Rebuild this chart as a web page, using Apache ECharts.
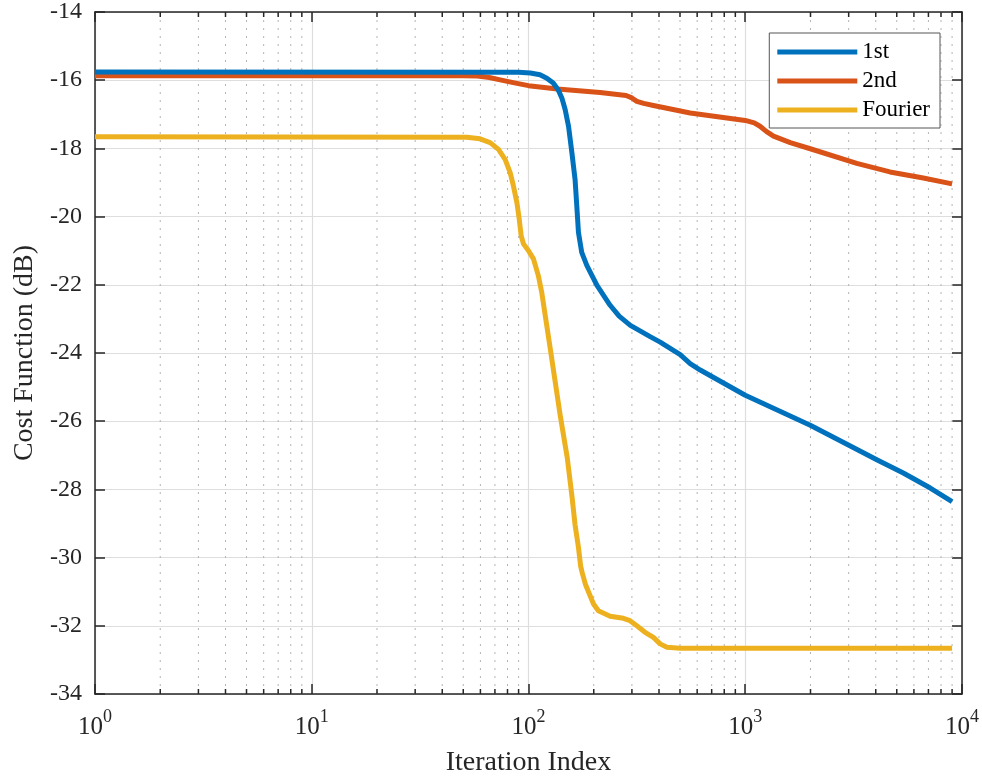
<!DOCTYPE html>
<html>
<head>
<meta charset="utf-8">
<script src="https://cdn.jsdelivr.net/npm/echarts@6/dist/echarts.min.js"></script>
<style>
html,body{margin:0;padding:0;background:#fff;}
#chart{width:982px;height:782px;}
</style>
</head>
<body>
<div id="chart"></div>
<script>
// ---- Data ----
const seriesNames = ['1st', '2nd', 'Fourier'];

const iter1st = [1, 90, 102, 113, 121.5, 130, 137, 142.5, 147.6, 153, 158.6, 164, 167, 170, 176, 186, 207, 238, 262, 295, 327, 364, 405, 501, 557, 620, 1000, 1995, 3053, 4066, 5360, 7140, 9000];
const cost1st = [-15.76, -15.77, -15.79, -15.84, -15.94, -16.08, -16.28, -16.52, -16.86, -17.35, -18.13, -18.91, -19.68, -20.46, -21.05, -21.44, -22.02, -22.60, -22.92, -23.19, -23.35, -23.52, -23.68, -24.05, -24.31, -24.50, -25.24, -26.12, -26.73, -27.14, -27.52, -27.96, -28.36];

const iter2nd = [1, 50, 58, 66, 74, 85, 100, 136, 214, 282, 300, 316, 340, 377, 557, 1000, 1100, 1170, 1250, 1350, 1613, 1995, 3270, 4650, 6630, 9000];
const cost2nd = [-15.87, -15.87, -15.88, -15.92, -15.99, -16.07, -16.16, -16.26, -16.36, -16.45, -16.52, -16.62, -16.68, -16.74, -16.96, -17.18, -17.25, -17.35, -17.50, -17.64, -17.83, -18.01, -18.44, -18.69, -18.87, -19.04];

const iterFourier = [1, 51.9, 59.8, 66.5, 72.7, 78, 82.3, 85.2, 88.4, 90.6, 92.5, 94.8, 100, 105.4, 111, 115, 126, 140, 151, 159, 164, 170, 174, 177, 183, 199.5, 210, 238, 274, 294, 316, 345, 377, 405, 435, 501, 9000];
const costFourier = [-17.66, -17.67, -17.72, -17.83, -18.03, -18.32, -18.71, -19.10, -19.59, -20.07, -20.56, -20.80, -21.00, -21.24, -21.73, -22.21, -23.87, -25.82, -27.08, -28.25, -29.04, -29.70, -30.25, -30.45, -30.78, -31.36, -31.56, -31.72, -31.78, -31.85, -32.00, -32.19, -32.34, -32.53, -32.63, -32.66, -32.66];

// axis ranges and ticks
const xMin = 1, xMax = 10000;
const yMin = -34, yMax = -14, yStep = 2;
const minorTicks = [2,3,4,5,6,7,8,9, 20,30,40,50,60,70,80,90, 200,300,400,500,600,700,800,900, 2000,3000,4000,5000,6000,7000,8000,9000];

const colors = ['#0072BD', '#D95319', '#EDB120'];
const FONT = 'Liberation Serif';
const TXT = '#262626';

const zip = (xs, ys) => xs.map((x, i) => [x, ys[i]]);

const chart = echarts.init(document.getElementById('chart'), null, {renderer: 'canvas'});

const axisLineStyle = {color: TXT, width: 1.5};

const option = {
  animation: false,
  backgroundColor: '#fff',
  grid: {left: 95, top: 12, right: 20, bottom: 85, containLabel: false},
  legend: {
    data: seriesNames,
    orient: 'vertical',
    right: 42,
    top: 33,
    itemWidth: 80,
    itemHeight: 5,
    itemGap: 5,
    icon: 'rect',
    padding: [7, 10, 6, 8],
    borderColor: '#555',
    borderWidth: 1,
    backgroundColor: '#fff',
    textStyle: {fontFamily: FONT, fontSize: 23, color: '#000', lineHeight: 24, padding: [0, 0, 0, 0]}
  },
  xAxis: [
    {
      type: 'log', logBase: 10, min: xMin, max: xMax,
      name: 'Iteration Index', nameLocation: 'middle', nameGap: 55,
      nameTextStyle: {fontFamily: FONT, fontSize: 28, color: TXT},
      axisLine: {show: true, lineStyle: axisLineStyle},
      axisTick: {show: true, inside: true, length: 10, lineStyle: {color: TXT, width: 1.5}},
      splitLine: {show: true, lineStyle: {color: '#dedede', width: 1.2}},
      axisLabel: {
        margin: 14,
        formatter: v => '{b|10}{s|' + Math.round(Math.log10(v)) + '}',
        rich: {
          b: {fontFamily: FONT, fontSize: 25, color: TXT, lineHeight: 32, verticalAlign: 'bottom'},
          s: {fontFamily: FONT, fontSize: 18, color: TXT, lineHeight: 32, verticalAlign: 'top'}
        }
      }
    },
    {
      type: 'log', logBase: 10, min: xMin, max: xMax, position: 'top',
      axisLine: {show: true, lineStyle: axisLineStyle},
      axisTick: {show: true, inside: true, length: 10, lineStyle: {color: TXT, width: 1.5}},
      axisLabel: {show: false}, splitLine: {show: false}
    }
  ],
  yAxis: [
    {
      type: 'value', min: yMin, max: yMax, interval: yStep,
      name: 'Cost Function (dB)', nameLocation: 'middle', nameGap: 52,
      nameTextStyle: {fontFamily: FONT, fontSize: 28, color: TXT},
      axisLine: {show: true, lineStyle: axisLineStyle},
      axisTick: {show: true, inside: true, length: 10, lineStyle: {color: TXT, width: 1.5}},
      splitLine: {show: true, lineStyle: {color: '#dedede', width: 1.2}},
      axisLabel: {fontFamily: FONT, fontSize: 24, color: TXT, margin: 13}
    },
    {
      type: 'value', min: yMin, max: yMax, interval: yStep, position: 'right',
      axisLine: {show: true, lineStyle: axisLineStyle},
      axisTick: {show: true, inside: true, length: 10, lineStyle: {color: TXT, width: 1.5}},
      axisLabel: {show: false}, splitLine: {show: false}
    }
  ],
  series: [
    {
      name: 'minor', type: 'custom', xAxisIndex: 0, yAxisIndex: 0, z: 1, silent: true,
      data: minorTicks.map(v => [v, yMin]),
      renderItem: function (params, api) {
        const x = api.value(0);
        const top = api.coord([x, yMax]);
        const bot = api.coord([x, yMin]);
        return {
          type: 'group',
          children: [
            {type: 'line', shape: {x1: top[0], y1: top[1], x2: bot[0], y2: bot[1]},
             style: {stroke: '#b4b4b4', lineWidth: 1, lineDash: [2, 6]}},
            {type: 'line', shape: {x1: bot[0], y1: bot[1], x2: bot[0], y2: bot[1] - 5},
             style: {stroke: TXT, lineWidth: 1.5}},
            {type: 'line', shape: {x1: top[0], y1: top[1], x2: top[0], y2: top[1] + 5},
             style: {stroke: TXT, lineWidth: 1.5}}
          ]
        };
      }
    },
    {name: seriesNames[0], type: 'line', data: zip(iter1st, cost1st), showSymbol: false, z: 5,
     lineStyle: {color: colors[0], width: 5, join: 'round'}, itemStyle: {color: colors[0]}},
    {name: seriesNames[1], type: 'line', data: zip(iter2nd, cost2nd), showSymbol: false, z: 4,
     lineStyle: {color: colors[1], width: 5, join: 'round'}, itemStyle: {color: colors[1]}},
    {name: seriesNames[2], type: 'line', data: zip(iterFourier, costFourier), showSymbol: false, z: 4,
     lineStyle: {color: colors[2], width: 5, join: 'round'}, itemStyle: {color: colors[2]}}
  ]
};
chart.setOption(option);
</script>
</body>
</html>
